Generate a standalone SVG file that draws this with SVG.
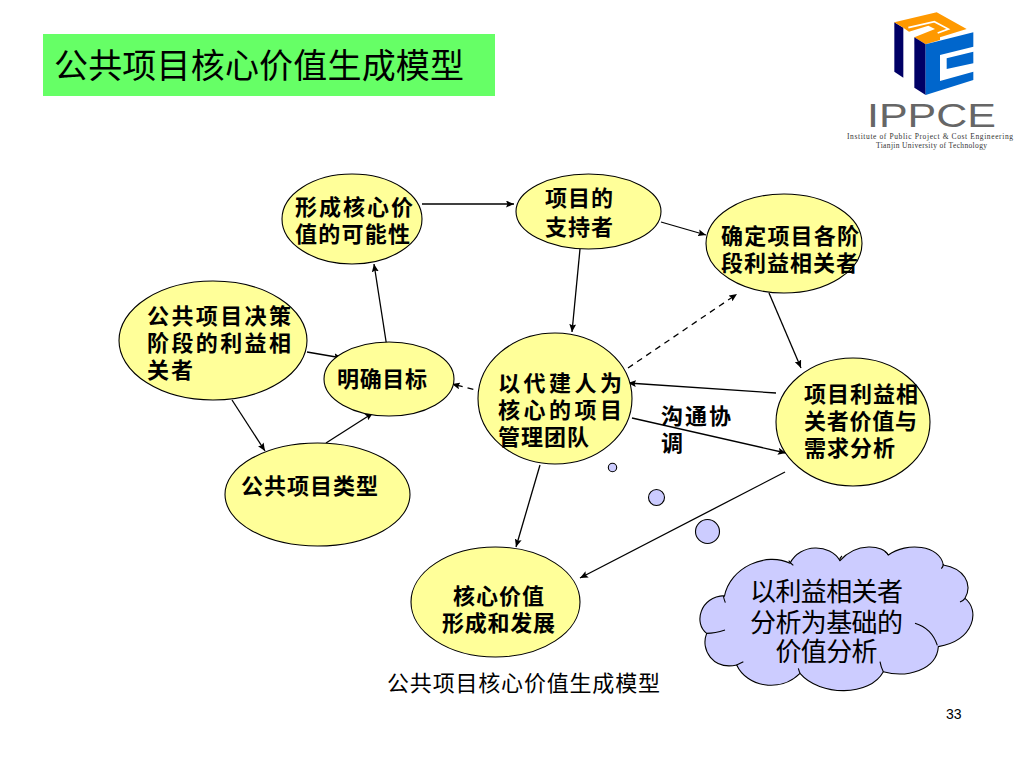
<svg xmlns="http://www.w3.org/2000/svg" width="1024" height="768" viewBox="0 0 1024 768">
<style>
text{font-family:"Liberation Sans","Noto Sans CJK SC",sans-serif;fill:#000}
.n{fill:#ffff99;stroke:#000;stroke-width:1.1}
.b{font-size:22px;font-weight:700}
.c{fill:none;stroke:#000;stroke-width:1.3;marker-end:url(#a)}
.d{stroke-dasharray:6 5}
.u{fill:#ccccff;stroke:#000;stroke-width:1.1}
</style>
<defs><marker id="a" markerUnits="userSpaceOnUse" markerWidth="9" markerHeight="7" refX="8" refY="3.500" orient="auto"><path d="M0 0L8 3.500L0 7L1.500 3.500Z" fill="#000"/></marker></defs>
<rect width="1024" height="768" fill="#fff"/>
<g id="title"><rect x="43" y="34" width="452" height="62" fill="#66ff66"/><text x="54" y="78" font-size="34" textLength="410">公共项目核心价值生成模型</text></g>
<g id="logo">
<g transform="translate(885 5) scale(.33333)">
<path d="M28 52L55 68V218L28 200Z" fill="#000066"/>
<path d="M28 52L155 22L245 72L165 97V105L122 118L88 97L150 72L130 62L72 80L55 68Z" fill="#ff9900"/>
<path d="M70 68L148 50L190 72L158 84" fill="none" stroke="#fff" stroke-width="5"/>
<path d="M88 97L122 118V270L88 248Z" fill="#000066"/>
<path d="M122 118L265 82V125L165 150V228L265 200V225L122 270Z" fill="#0066cc"/>
<path d="M185 160L265 140V175L185 192Z" fill="#0066cc"/>
</g>
<text x="867" y="127" font-size="33" textLength="129" lengthAdjust="spacingAndGlyphs" style="fill:#666">IPPCE</text>
<text x="847" y="139" font-size="7.500" textLength="166" style="font-family:'Liberation Serif',serif;fill:#333">Institute of Public Project &amp; Cost Engineering</text>
<text x="876" y="147.500" font-size="7.500" textLength="111" style="font-family:'Liberation Serif',serif;fill:#333">Tianjin University of Technology</text>
</g>
<g id="connectors">
<path class="c" d="M422 204H514"/>
<path class="c" d="M661 222L706 235"/>
<path class="c" d="M580 249L572 332"/>
<path class="c" d="M769 293L801 368"/>
<path class="c" d="M776 393L628 383"/>
<path class="c" d="M632 418L786 453"/>
<path class="c" d="M785 472L580 578"/>
<path class="c" d="M540 465L516 547"/>
<path class="c" d="M307 352L342 358"/>
<path class="c" d="M232 400L265 451"/>
<path class="c" d="M326 443L373 413"/>
<path class="c" d="M388 354L374 264"/>
<path class="c d" d="M628 368L737 294"/>
<path class="c d" d="M484 392L452 384"/>
</g>
<g id="n1"><ellipse class="n" cx="352" cy="219" rx="70" ry="45"/><text class="b" x="295" y="215" textLength="118">形成核心价</text><text class="b" x="295" y="242" textLength="115">值的可能性</text></g>
<g id="n2"><ellipse class="n" cx="588.500" cy="211.500" rx="72.500" ry="37.500"/><text class="b" x="545" y="206" textLength="68">项目的</text><text class="b" x="545" y="235" textLength="68">支持者</text></g>
<g id="n3"><ellipse class="n" cx="784" cy="243.500" rx="78" ry="49.500"/><text class="b" x="721" y="244" textLength="138">确定项目各阶</text><text class="b" x="721" y="271" textLength="137">段利益相关者</text></g>
<g id="n4"><ellipse class="n" cx="213" cy="340.500" rx="94" ry="59.500"/><text class="b" x="147" y="324" textLength="144">公共项目决策</text><text class="b" x="147" y="351" textLength="144">阶段的利益相</text><text class="b" x="147" y="378" textLength="46">关者</text></g>
<g id="n5"><ellipse class="n" cx="389" cy="379" rx="65" ry="37"/><text class="b" x="337" y="387" textLength="90">明确目标</text></g>
<g id="n6"><ellipse class="n" cx="555" cy="398.500" rx="77" ry="65.500"/><text class="b" x="498" y="391" textLength="124">以代建人为</text><text class="b" x="498" y="418" textLength="124">核心的项目</text><text class="b" x="498" y="445" textLength="91">管理团队</text></g>
<g id="n7"><ellipse class="n" cx="853" cy="422" rx="77" ry="64"/><text class="b" x="804" y="402" textLength="114">项目利益相</text><text class="b" x="804" y="429" textLength="113">关者价值与</text><text class="b" x="804" y="456" textLength="91">需求分析</text></g>
<g id="n8"><ellipse class="n" cx="317.500" cy="494.500" rx="92.500" ry="51.500"/><text class="b" x="241" y="494" textLength="137">公共项目类型</text></g>
<g id="n9"><ellipse class="n" cx="495.500" cy="602" rx="84.500" ry="55"/><text class="b" x="453" y="604" textLength="91">核心价值</text><text class="b" x="442" y="631" textLength="113">形成和发展</text></g>
<g id="label"><text class="b" x="661" y="424" textLength="70">沟通协</text><text class="b" x="661" y="451">调</text></g>
<g id="bubbles"><circle class="u" cx="612.500" cy="467.500" r="4.200"/><circle class="u" cx="656.500" cy="497.500" r="8"/><circle class="u" cx="707.500" cy="531.500" r="12"/></g>
<g id="cloud">
<path transform="translate(680 530) scale(.33333)" fill="#ccccff" stroke="#000" stroke-width="3.300" d="M133 200C150 110 260 65 330 100C360 40 450 40 480 92C530 35 610 45 625 75C680 35 780 45 790 105C850 115 880 160 855 205C900 240 885 330 775 350C770 420 680 445 610 425C570 500 420 500 360 430C300 490 200 470 170 405C100 420 60 360 80 310C40 280 60 200 133 197Z"/>
<path transform="translate(680 530) scale(.33333)" fill="none" stroke="#000" stroke-width="3.300" d="M130 198Q132 208 136 218M326 92Q332 100 340 106M480 92Q478 85 486 78M625 75Q622 70 614 64M790 102Q790 110 784 116M855 205Q850 212 840 216M705 280Q755 295 772 346M610 425Q603 412 600 395M360 430Q357 422 355 415M170 405Q180 400 190 395M80 310Q105 310 135 300"/>
<text x="826.500" y="601" font-size="26" text-anchor="middle" textLength="153">以利益相关者</text>
<text x="826.500" y="632" font-size="26" text-anchor="middle" textLength="153">分析为基础的</text>
<text x="826.500" y="661" font-size="26" text-anchor="middle" textLength="102">价值分析</text>
</g>
<g id="caption"><text x="387" y="691" font-size="22" textLength="273">公共项目核心价值生成模型</text></g>
<g id="page"><text x="946" y="719" font-size="14">33</text></g>
</svg>
